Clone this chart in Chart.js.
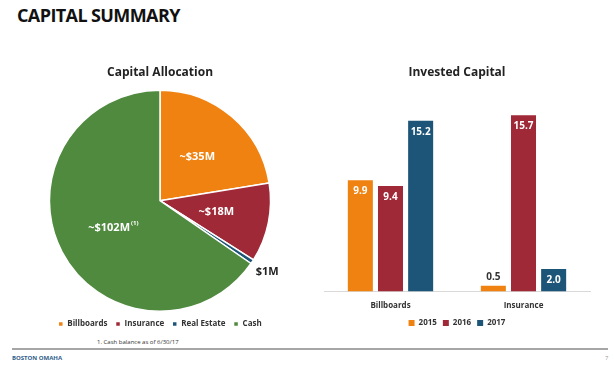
<!DOCTYPE html>
<html>
<head>
<meta charset="utf-8">
<script src="https://cdn.jsdelivr.net/npm/chart.js@4/dist/chart.umd.min.js"></script>
<style>
  body { margin: 0; background: #fff; font-family: "Open Sans", sans-serif; }
  #page { position: relative; width: 614px; height: 367px; overflow: hidden; }
  #heading { position: absolute; left: 17px; top: 3px; font-size: 18px; font-weight: 700; color: #111; letter-spacing: -0.6px; }
  #pieBox { position: absolute; left: 40px; top: 60px; width: 240px; height: 278px; }
  #barBox { position: absolute; left: 300px; top: 60px; width: 314px; height: 277px; }
  #note { position: absolute; left: 97px; top: 338px; font-size: 6px; color: #333; }
  #rule { position: absolute; left: 12px; top: 348px; width: 596px; height: 2px; background: #a6a6a6; }
  #brand { position: absolute; left: 12px; top: 354px; font-size: 6px; font-weight: 700; color: #2e5c8a; }
  #pageNo { position: absolute; left: 605px; top: 354px; font-size: 6px; color: #999; }
</style>
</head>
<body>
<div id="page">
  <div id="heading">CAPITAL SUMMARY</div>
  <div id="pieBox"><canvas id="pieChart"></canvas></div>
  <div id="barBox"><canvas id="barChart"></canvas></div>
  <div id="note">1. Cash balance as of 6/30/17</div>
  <div id="rule"></div>
  <div id="brand">BOSTON OMAHA</div>
  <div id="pageNo">7</div>
</div>
<script>
// capital allocation ($M)
const pieLabels = ["Billboards", "Insurance", "Real Estate", "Cash"];
const pieValues = [35, 18, 1, 102];
const pieText = ["~$35M", "~$18M", "$1M", "~$102M"];

// invested capital ($M)
const barCategories = ["Billboards", "Insurance"];
const years = ["2015", "2016", "2017"];
const invested2015 = [9.9, 0.5];
const invested2016 = [9.4, 15.7];
const invested2017 = [15.2, 2.0];

const orange = "#ef8210";
const crimson = "#9f2937";
const navy = "#1d5578";
const green = "#4f8a3f";

const font = "'Open Sans', sans-serif";

const pieLabelPlugin = {
    id: "pieLabels",
    afterDatasetsDraw(chart) {
        const ctx = chart.ctx;
        const arcs = chart.getDatasetMeta(0).data;
        ctx.save();
        ctx.textAlign = "center";
        ctx.textBaseline = "middle";
        arcs.forEach((arc, i) => {
            const mid = (arc.startAngle + arc.endAngle) / 2;
            const small = pieValues[i] < 5;
            const r = small ? arc.outerRadius + 18 : arc.outerRadius * 0.52;
            const x = arc.x + Math.cos(mid) * r;
            const y = arc.y + Math.sin(mid) * r;
            ctx.fillStyle = small ? "#222" : "#fff";
            ctx.font = "bold 11px " + font;
            ctx.fillText(pieText[i], x, y);
            if (i === 3) {
                // footnote marker
                const w = ctx.measureText(pieText[i]).width;
                ctx.font = "bold 6px " + font;
                ctx.textAlign = "left";
                ctx.fillText("(1)", x + w / 2 + 1, y - 4);
                ctx.textAlign = "center";
            }
        });
        ctx.restore();
    }
};

new Chart(document.getElementById("pieChart"), {
    type: "pie",
    data: {
        labels: pieLabels,
        datasets: [{
            data: pieValues,
            backgroundColor: [orange, crimson, navy, green],
            borderColor: "#fff",
            borderWidth: 1.5
        }]
    },
    options: {
        responsive: true,
        maintainAspectRatio: false,
        animation: false,
        plugins: {
            title: {
                display: true,
                text: "Capital Allocation",
                color: "#222",
                font: { family: font, size: 12, weight: "bold" },
                padding: { top: 5, bottom: 10 }
            },
            legend: {
                position: "bottom",
                labels: {
                    usePointStyle: true,
                    pointStyle: "rect",
                    boxWidth: 5,
                    boxHeight: 5,
                    padding: 8,
                    color: "#333",
                    font: { family: font, size: 8, weight: "bold" }
                }
            },
            tooltip: { enabled: false }
        }
    },
    plugins: [pieLabelPlugin]
});

const barLabelPlugin = {
    id: "barLabels",
    afterDatasetsDraw(chart) {
        const ctx = chart.ctx;
        ctx.save();
        ctx.textAlign = "center";
        ctx.textBaseline = "middle";
        ctx.font = "bold 10px " + font;
        chart.data.datasets.forEach((ds, d) => {
            chart.getDatasetMeta(d).data.forEach((bar, i) => {
                const v = ds.data[i];
                const h = bar.base - bar.y;
                if (h < 20) {
                    ctx.fillStyle = "#333";
                    ctx.fillText(v.toFixed(1), bar.x, bar.y - 9);
                } else {
                    ctx.fillStyle = "#fff";
                    ctx.fillText(v.toFixed(1), bar.x, bar.y + 11);
                }
            });
        });
        ctx.restore();
    }
};

new Chart(document.getElementById("barChart"), {
    type: "bar",
    data: {
        labels: barCategories,
        datasets: [
            { label: years[0], data: invested2015, backgroundColor: orange },
            { label: years[1], data: invested2016, backgroundColor: crimson },
            { label: years[2], data: invested2017, backgroundColor: navy }
        ]
    },
    options: {
        responsive: true,
        maintainAspectRatio: false,
        animation: false,
        layout: { padding: { left: 24, right: 24 } },
        datasets: { bar: { categoryPercentage: 0.68, barPercentage: 0.83 } },
        scales: {
            x: {
                grid: { display: false },
                border: { color: "#d9d9d9" },
                ticks: { color: "#333", padding: 2, font: { family: font, size: 8, weight: "bold" } }
            },
            y: { display: false, min: 0, max: 18 }
        },
        plugins: {
            title: {
                display: true,
                text: "Invested Capital",
                color: "#222",
                font: { family: font, size: 12, weight: "bold" },
                padding: { top: 5, bottom: 10 }
            },
            legend: {
                position: "bottom",
                labels: {
                    usePointStyle: true,
                    pointStyle: "rect",
                    boxWidth: 6,
                    boxHeight: 6,
                    padding: 6,
                    color: "#333",
                    font: { family: font, size: 8, weight: "bold" }
                }
            },
            tooltip: { enabled: false }
        }
    },
    plugins: [barLabelPlugin]
});
</script>
</body>
</html>
